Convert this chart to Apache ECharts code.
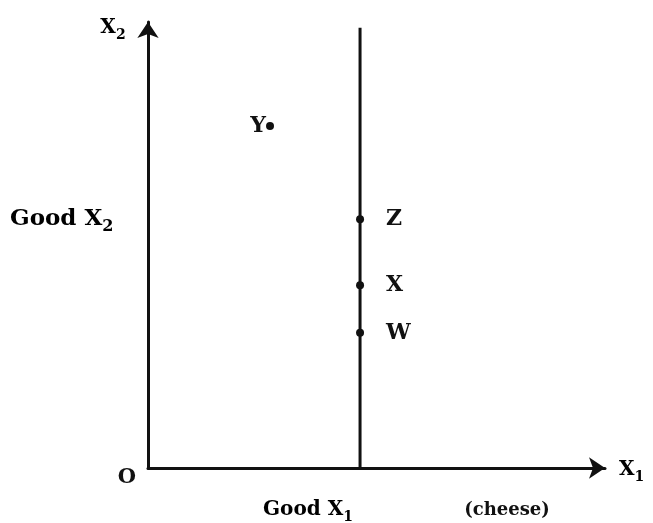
<!DOCTYPE html>
<html>
<head>
<meta charset="utf-8">
<script src="https://cdn.jsdelivr.net/npm/echarts@6/dist/echarts.min.js"></script>
<style>
  html, body { margin: 0; padding: 0; background: #ffffff; }
  #chart { width: 653px; height: 523px; }
</style>
</head>
<body>
<div id="chart"></div>
<script>
// Budget-style diagram: a vertical line at a fixed quantity of good X1,
// with bundles Z, X, W on it and bundle Y off to the left.
const axisRange = [0, 100];            // both axes run 0..100 (unitless)
const lineX = [46.4, 46.4];            // vertical line at fixed X1
const lineY = [0, 98.7];
const pointNames = ['Z', 'X', 'W', 'Y'];
const pointX = [46.4, 46.4, 46.4, 26.7];
const pointY = [55.8, 41.0, 30.3, 76.7];

const serif = 'DejaVu Serif';
const ink = '#111111';

const chart = echarts.init(document.getElementById('chart'), null, { renderer: 'canvas' });

const subRich = (size, subSize) => ({
  a: { fontFamily: serif, fontWeight: 'bold', fontSize: size, color: ink, lineHeight: size + 8, verticalAlign: 'middle' },
  s: { fontFamily: serif, fontWeight: 'bold', fontSize: subSize, color: ink, lineHeight: subSize, verticalAlign: 'bottom' }
});

const points = pointNames.map((n, i) => ({
  name: n,
  value: [pointX[i], pointY[i]],
  label: n === 'Y'
    ? { position: 'left', distance: 0 }
    : { position: 'right', distance: 22 }
}));

const axisCommon = {
  type: 'value', min: axisRange[0], max: axisRange[1],
  splitLine: { show: false }, axisTick: { show: false }, axisLabel: { show: false },
  axisLine: { show: true, lineStyle: { color: ink, width: 3 }, symbol: ['none', 'arrow'], symbolSize: [16, 16] }
};

chart.setOption({
  animation: false,
  backgroundColor: '#ffffff',
  grid: { left: 148, right: 48, top: 22, bottom: 55 },
  xAxis: axisCommon,
  yAxis: axisCommon,
  series: [
    {
      type: 'line',
      data: lineX.map((x, i) => [x, lineY[i]]),
      showSymbol: false,
      lineStyle: { color: ink, width: 3 },
      clip: false,
      silent: true
    },
    {
      type: 'scatter',
      data: points,
      symbol: 'circle',
      symbolSize: 8,
      itemStyle: { color: ink, opacity: 1 },
      label: {
        show: true,
        formatter: '{b}',
        fontFamily: serif,
        fontWeight: 'bold',
        fontSize: 22,
        color: ink,
        opacity: 1
      },
      clip: false
    }
  ],
  graphic: [
    {
      type: 'text', x: 113, y: 28,
      style: { text: '{a|X}{s|2}', rich: subRich(20, 14), textAlign: 'center', textVerticalAlign: 'middle' }
    },
    {
      type: 'text', x: 10, y: 219,
      style: { text: '{a|Good X}{s|2}', rich: subRich(23, 16), textAlign: 'left', textVerticalAlign: 'middle' }
    },
    {
      type: 'text', x: 127, y: 478,
      style: { text: 'O', font: 'bold 21px "DejaVu Serif"', fill: ink, textAlign: 'center', textVerticalAlign: 'middle' }
    },
    {
      type: 'text', x: 263, y: 510,
      style: { text: '{a|Good X}{s|1}', rich: subRich(20, 14), textAlign: 'left', textVerticalAlign: 'middle' }
    },
    {
      type: 'text', x: 507, y: 510,
      style: { text: '(cheese)', font: 'bold 18px "DejaVu Serif"', fill: ink, textAlign: 'center', textVerticalAlign: 'middle' }
    },
    {
      type: 'text', x: 619, y: 470,
      style: { text: '{a|X}{s|1}', rich: subRich(20, 14), textAlign: 'left', textVerticalAlign: 'middle' }
    }
  ]
});
</script>
</body>
</html>
